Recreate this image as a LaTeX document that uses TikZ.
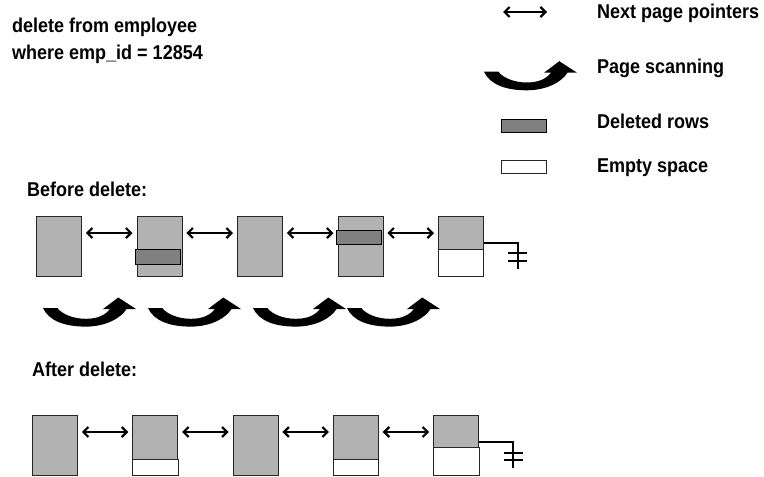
\documentclass[tikz,border=0pt]{standalone}
\usepackage{fontspec}
\setmainfont[FakeStretch=0.9]{Liberation Sans}
\usetikzlibrary{arrows.meta}

\definecolor{pagegray}{gray}{0.7}
\definecolor{rowgray}{gray}{0.5}

\tikzset{
  page/.style={draw=black!85, line width=0.8pt, fill=pagegray, anchor=north west,
    minimum width=45pt, minimum height=60pt, inner sep=0pt},
  delrow/.style={draw=black, line width=0.8pt, fill=rowgray},
  emptyrow/.style={draw=black!85, line width=0.8pt, fill=white},
  ptr/.style={line width=2.2pt, {Straight Barb[length=5pt,width=10pt]}-{Straight Barb[length=5pt,width=10pt]},
    shorten <=4pt, shorten >=4pt},
  gnd/.style={line width=1.8pt},
  lbl/.style={font=\bfseries\fontsize{20}{22}\selectfont, anchor=base west, inner sep=0pt},
  scanarrow/.pic={
    \fill (0,0) .. controls (6,13) and (22,18.6) .. (42.7,18.6)
      .. controls (63,18.6) and (78,10) .. (83.5,1)
      -- (93,1) -- (75.3,-10.5) -- (60,1) -- (67,1)
      .. controls (62,7.5) and (54,10.8) .. (42.7,10.8)
      .. controls (30,10.8) and (19,6) .. (14.3,0) -- cycle;
  }
}

\begin{document}
\begin{tikzpicture}[x=1pt, y=-1pt]
    \useasboundingbox (0,0) rectangle (764,477);

    % query
    \node[lbl] (q1) at (12,32) {delete from employee};
    \node[lbl] (q2) at (12,59) {where emp\_id = 12854};

    % legend
    \coordinate (lp1) at (503,12);
    \coordinate (lp2) at (547,12);
    \draw[ptr, shorten <=0pt, shorten >=0pt] (lp1) -- (lp2);
    \node[lbl] (lptr) at (597,18) {Next page pointers};
    \pic at (484,71.7) {scanarrow};
    \node[lbl] (lscan) at (597,73) {Page scanning};
    \draw[delrow] (501.5,119.5) rectangle (546.5,132.5);
    \node[lbl] (ldel) at (597,128) {Deleted rows};
    \draw[emptyrow] (501.5,160.5) rectangle (546.5,173.5);
    \node[lbl] (lemp) at (597,172) {Empty space};

    % before delete
    \node[lbl] (before) at (27,196) {Before delete:};
    \foreach \i in {1,...,5}
        \node[page] (b\i) at ({36+100.5*(\i-1)},216) {};
    \foreach \i [count=\j from 2] in {1,...,4}
        \draw[ptr] ([yshift=-17pt]b\i.north east) -- ([yshift=-17pt]b\j.north west);
    \draw[delrow] ([shift={(-1,33)}]b2.north west) rectangle ++(45,15);
    \draw[delrow] ([shift={(-1,14)}]b4.north west) rectangle ++(45,14.5);
    \draw[emptyrow] ([yshift=-33pt]b5.north west) rectangle (b5.south east);

    \coordinate (bg) at ([shift={(34,27)}]b5.north east);
    \draw[gnd] ([yshift=-27pt]b5.north east) -- (bg) -- ++(0,26);
    \draw[gnd] ([shift={(-9.5,10)}]bg) -- ++(19,0)
               ([shift={(-9.5,17.7)}]bg) -- ++(19,0);

    % scanning
    \foreach \x in {43,148,253,347}
        \pic at (\x,308) {scanarrow};

    % after delete
    \node[lbl] (after) at (32,376) {After delete:};
    \foreach \i in {1,...,5}
        \node[page] (a\i) at ({32+100.3*(\i-1)},415) {};
    \foreach \i [count=\j from 2] in {1,...,4}
        \draw[ptr] ([yshift=-17pt]a\i.north east) -- ([yshift=-17pt]a\j.north west);
    \draw[emptyrow] ([yshift=-44pt]a2.north west) rectangle (a2.south east);
    \draw[emptyrow] ([yshift=-44pt]a4.north west) rectangle (a4.south east);
    \draw[emptyrow] ([yshift=-32pt]a5.north west) rectangle (a5.south east);

    \coordinate (ag) at ([shift={(34,27)}]a5.north east);
    \draw[gnd] ([yshift=-27pt]a5.north east) -- (ag) -- ++(0,26);
    \draw[gnd] ([shift={(-9.5,11)}]ag) -- ++(19,0)
               ([shift={(-9.5,18.3)}]ag) -- ++(19,0);
\end{tikzpicture}
\end{document}
